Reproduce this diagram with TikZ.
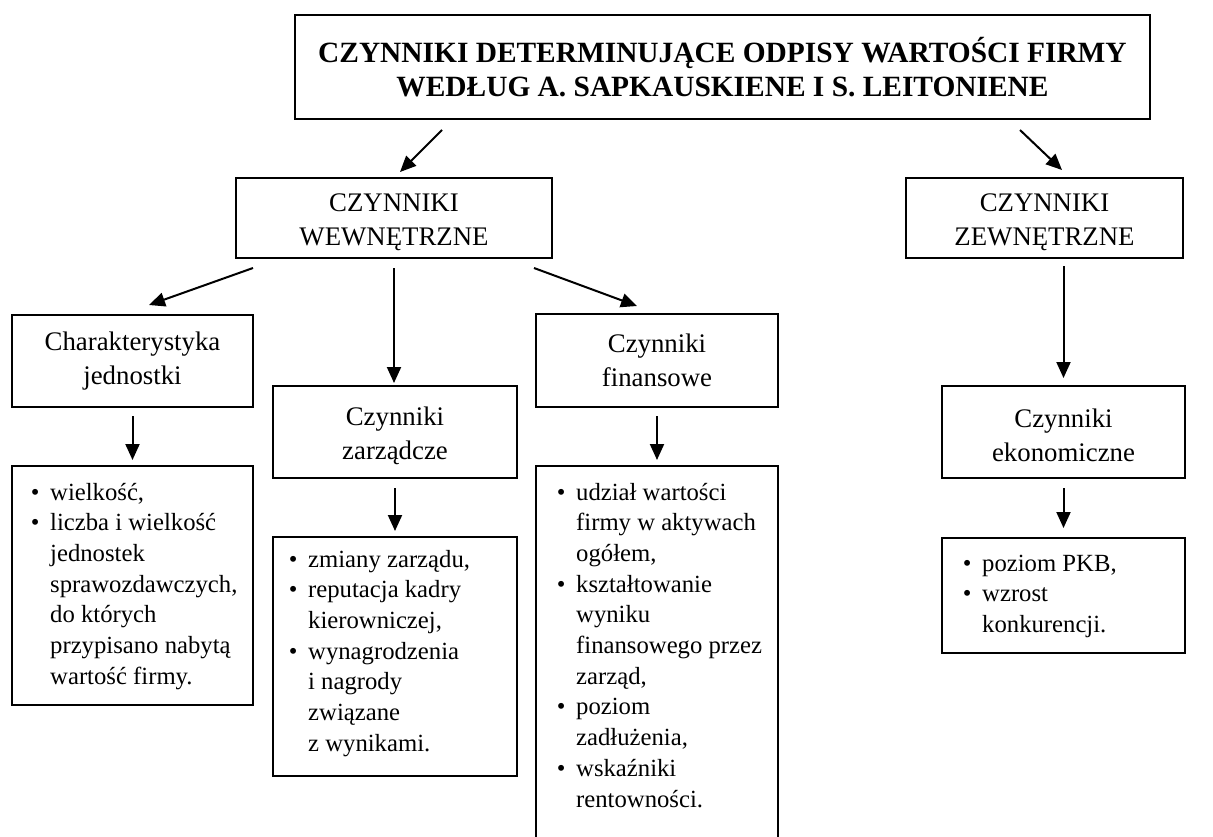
\documentclass[tikz,border=0pt]{standalone}
\usepackage{fontspec}
\setmainfont{Liberation Serif}
\usetikzlibrary{arrows.meta}
\newcommand\bl{\makebox[30pt]{\textbullet}}
\newcommand\pushdown{\rule{0pt}{26pt}}
\begin{document}
\begin{tikzpicture}[x=1pt,y=-1pt]
\tikzset{
  frame/.style={draw, line width=2pt, inner sep=0pt},
  head/.style={frame, align=center, font=\fontsize{26.8}{34}\selectfont},
  listtext/.style={inner sep=0pt, anchor=base west, font=\fontsize{24.7}{30.7}\selectfont},
  arr/.style={line width=2pt, -{Triangle[length=16pt,width=14pt]}},
}
\useasboundingbox (0,0) rectangle (1213,836);

% boxes
\node[frame, align=center, font=\fontsize{29.4}{34}\selectfont\bfseries,
      minimum width=855pt, minimum height=104pt] (top) at (722.5,67)
  {CZYNNIKI DETERMINUJĄCE ODPISY WARTOŚCI FIRMY\\WEDŁUG A. SAPKAUSKIENE I S. LEITONIENE};
\node[head, minimum width=316pt, minimum height=80pt] (wew) at (394,218) {\pushdown CZYNNIKI\\WEWNĘTRZNE};
\node[head, minimum width=277pt, minimum height=80pt] (zew) at (1044.5,218) {\pushdown CZYNNIKI\\ZEWNĘTRZNE};
\node[head, minimum width=241pt, minimum height=92pt] (char) at (132.5,361) {Charakterystyka\\jednostki};
\node[head, minimum width=244pt, minimum height=92pt] (zarz) at (395,432) {\pushdown Czynniki\\zarządcze};
\node[head, minimum width=242pt, minimum height=93pt] (fin) at (657,360.5) {Czynniki\\finansowe};
\node[head, minimum width=243pt, minimum height=92pt] (eko) at (1063.5,432) {\pushdown Czynniki\\ekonomiczne};

\node[frame, minimum width=241pt, minimum height=239pt] (charL) at (132.5,585.5) {};
\node[frame, minimum width=244pt, minimum height=239pt] (zarzL) at (395,656.5) {};
\node[frame, minimum width=242pt, minimum height=390pt] (finL) at (657,661) {};
\node[frame, minimum width=243pt, minimum height=115pt] (ekoL) at (1063.5,595.5) {};

% list texts
\node[listtext] (charT) at (20,500) {\begin{tabular}[t]{@{}l@{}l@{}}
\bl & wielkość,\\
\bl & liczba i wielkość\\
 & jednostek\\
 & sprawozdawczych,\\
 & do których\\
 & przypisano nabytą\\
 & wartość firmy.
\end{tabular}};
\node[listtext] (zarzT) at (278,567) {\begin{tabular}[t]{@{}l@{}l@{}}
\bl & zmiany zarządu,\\
\bl & reputacja kadry\\
 & kierowniczej,\\
\bl & wynagrodzenia\\
 & i nagrody\\
 & związane\\
 & z wynikami.
\end{tabular}};
\node[listtext] (finT) at (546,500) {\begin{tabular}[t]{@{}l@{}l@{}}
\bl & udział wartości\\
 & firmy w aktywach\\
 & ogółem,\\
\bl & kształtowanie\\
 & wyniku\\
 & finansowego przez\\
 & zarząd,\\
\bl & poziom\\
 & zadłużenia,\\
\bl & wskaźniki\\
 & rentowności.
\end{tabular}};
\node[listtext] (ekoT) at (952,571) {\begin{tabular}[t]{@{}l@{}l@{}}
\bl & poziom PKB,\\
\bl & wzrost\\
 & konkurencji.
\end{tabular}};

% connectors
\draw[arr] ([xshift=148pt,yshift=-10pt]top.south west) -- ([xshift=6pt,yshift=5pt]wew.north);
\draw[arr] ([xshift=-131pt,yshift=-10pt]top.south east) -- ([xshift=17.5pt,yshift=7pt]zew.north);
\draw[arr] ([xshift=18pt,yshift=-9pt]wew.south west) -- ([xshift=16.5pt,yshift=9pt]char.north);
\draw[arr, shorten <=9pt, shorten >=2pt] (wew.south) -- (wew.south |- zarz.north);
\draw[arr] ([xshift=-19pt,yshift=-9pt]wew.south east) -- ([xshift=-20pt,yshift=7pt]fin.north);
\draw[arr, shorten <=8pt, shorten >=5pt] (char.south) -- (charL.north);
\draw[arr, shorten <=9pt, shorten >=5pt] (zarz.south) -- (zarzL.north);
\draw[arr, shorten <=8pt, shorten >=5pt] (fin.south) -- (finL.north);
\draw[arr, shorten <=7pt, shorten >=7pt] (eko.north |- zew.south) -- (eko.north);
\draw[arr, shorten <=9pt, shorten >=9pt] (eko.south) -- (ekoL.north);
\end{tikzpicture}
\end{document}
